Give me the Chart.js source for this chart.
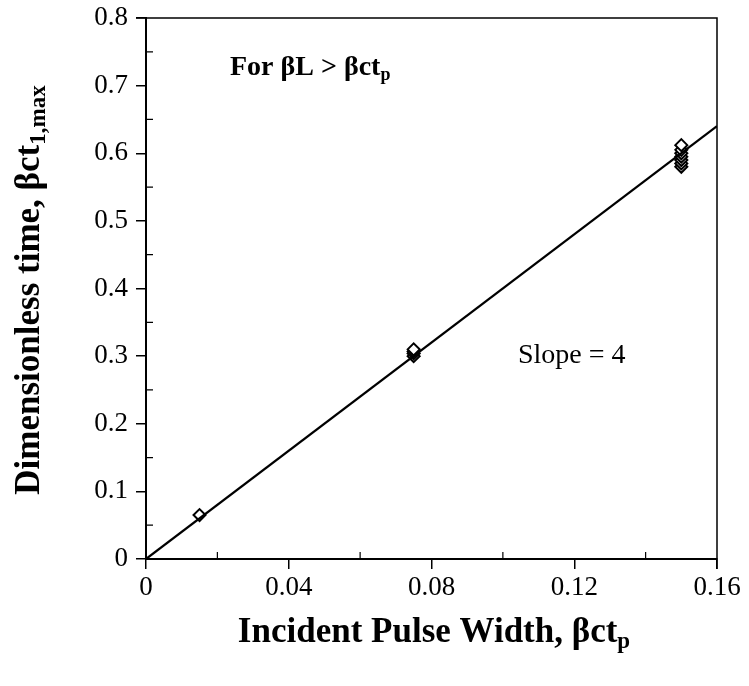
<!DOCTYPE html>
<html>
<head>
<meta charset="utf-8">
<script src="https://cdn.jsdelivr.net/npm/chart.js@4"></script>
<style>
  html, body { margin: 0; padding: 0; background: #fff; }
  #wrap { width: 749px; height: 686px; }
</style>
</head>
<body>
<div id="wrap"><canvas id="chart" width="749" height="686"></canvas></div>
<script>
// pulse width (x) and dimensionless time (y)
const pulseX = [0.015, 0.075, 0.075, 0.075, 0.075, 0.15, 0.15, 0.15, 0.15, 0.15, 0.15, 0.15];
const timeY = [0.065, 0.300, 0.304, 0.307, 0.310, 0.580, 0.585, 0.590, 0.595, 0.600, 0.605, 0.612];

// fitted line, slope = 4
const fitX = [0, 0.16];
const fitY = [0, 0.64];

const xTickLabels = ['0', '0.04', '0.08', '0.12', '0.16'];
const yTickLabels = ['0', '0.1', '0.2', '0.3', '0.4', '0.5', '0.6', '0.7', '0.8'];

const serif = '"Liberation Serif", "Times New Roman", serif';

// draws text with a subscript part: parts = [[text, isSub], ...]
const drawRich = (ctx, parts, size, bold, align) => {
  const weight = bold ? 'bold ' : '';
  const subSize = Math.round(size * 0.65);
  let total = 0;
  parts.forEach(([t, sub]) => {
    ctx.font = `${weight}${sub ? subSize : size}px ${serif}`;
    total += ctx.measureText(t).width;
  });
  let x = align === 'center' ? -total / 2 : 0;
  parts.forEach(([t, sub]) => {
    ctx.font = `${weight}${sub ? subSize : size}px ${serif}`;
    ctx.fillText(t, x, sub ? size * 0.25 : 0);
    x += ctx.measureText(t).width;
  });
};

const extras = {
  id: 'extras',
  afterDraw(chart) {
    const { ctx, chartArea: a, scales } = chart;
    ctx.save();
    ctx.strokeStyle = '#000';
    ctx.lineWidth = 1.5;
    // top and right frame
    ctx.beginPath();
    ctx.moveTo(a.left - 10, a.top);
    ctx.lineTo(a.right, a.top);
    ctx.lineTo(a.right, a.bottom + 10);
    ctx.stroke();
    // minor inward ticks
    ctx.lineWidth = 1.2;
    ctx.beginPath();
    [0.02, 0.06, 0.1, 0.14].forEach(v => {
      const px = scales.x.getPixelForValue(v);
      ctx.moveTo(px, a.bottom);
      ctx.lineTo(px, a.bottom - 7);
    });
    [0.05, 0.15, 0.25, 0.35, 0.45, 0.55, 0.65, 0.75].forEach(v => {
      const py = scales.y.getPixelForValue(v);
      ctx.moveTo(a.left, py);
      ctx.lineTo(a.left + 7, py);
    });
    ctx.stroke();

    ctx.fillStyle = '#000';
    ctx.textBaseline = 'middle';
    // annotations
    ctx.save();
    ctx.translate(230, 68);
    drawRich(ctx, [['For βL > βct', false], ['p', true]], 28, true, 'left');
    ctx.restore();
    ctx.save();
    ctx.translate(518, 356);
    drawRich(ctx, [['Slope = 4', false]], 28, false, 'left');
    ctx.restore();
    // axis titles
    ctx.save();
    ctx.translate(434, 633);
    drawRich(ctx, [['Incident Pulse Width, βct', false], ['p', true]], 35, true, 'center');
    ctx.restore();
    ctx.save();
    ctx.translate(30, 290);
    ctx.rotate(-Math.PI / 2);
    drawRich(ctx, [['Dimensionless time, βct', false], ['1,max', true]], 35, true, 'center');
    ctx.restore();
    ctx.restore();
  }
};

const ctx = document.getElementById('chart').getContext('2d');
const chart = new Chart(ctx, {
  type: 'scatter',
  data: {
    datasets: [
      {
        type: 'line',
        data: fitX.map((x, i) => ({ x, y: fitY[i] })),
        borderColor: '#000',
        borderWidth: 2.2,
        pointRadius: 0,
        tension: 0,
      },
      {
        data: pulseX.map((x, i) => ({ x, y: timeY[i] })),
        pointStyle: 'rectRot',
        pointRadius: 6,
        backgroundColor: '#fff',
        borderColor: '#000',
        borderWidth: 2,
      },
    ]
  },
  options: {
    responsive: false,
    animation: false,
    layout: { padding: { top: 18, right: 32, left: 0, bottom: 0 } },
    plugins: { legend: { display: false }, tooltip: { enabled: false } },
    scales: {
      x: {
        type: 'linear',
        min: 0,
        max: 0.16,
        afterFit: (s) => { s.height = 127; },
        afterBuildTicks: (s) => { s.ticks = xTickLabels.map(v => ({ value: +v })); },
        ticks: {
          callback: (v, i) => xTickLabels[i],
          font: { family: serif, size: 27 },
          color: '#000',
          padding: 3,
          maxRotation: 0,
        },
        grid: { drawOnChartArea: false, drawTicks: true, tickLength: 10, color: '#000', lineWidth: 1.5 },
        border: { color: '#000', width: 2 },
      },
      y: {
        min: 0,
        max: 0.8,
        afterFit: (s) => { s.width = 146; s.paddingTop = 0; s.paddingBottom = 0; },
        afterBuildTicks: (s) => { s.ticks = yTickLabels.map(v => ({ value: +v })); },
        ticks: {
          callback: (v, i) => yTickLabels[i],
          font: { family: serif, size: 27, lineHeight: 0.8 },
          color: '#000',
          padding: 8,
        },
        grid: { drawOnChartArea: false, drawTicks: true, tickLength: 10, color: '#000', lineWidth: 1.5 },
        border: { color: '#000', width: 2 },
      }
    }
  },
  plugins: [extras]
});
</script>
</body>
</html>
